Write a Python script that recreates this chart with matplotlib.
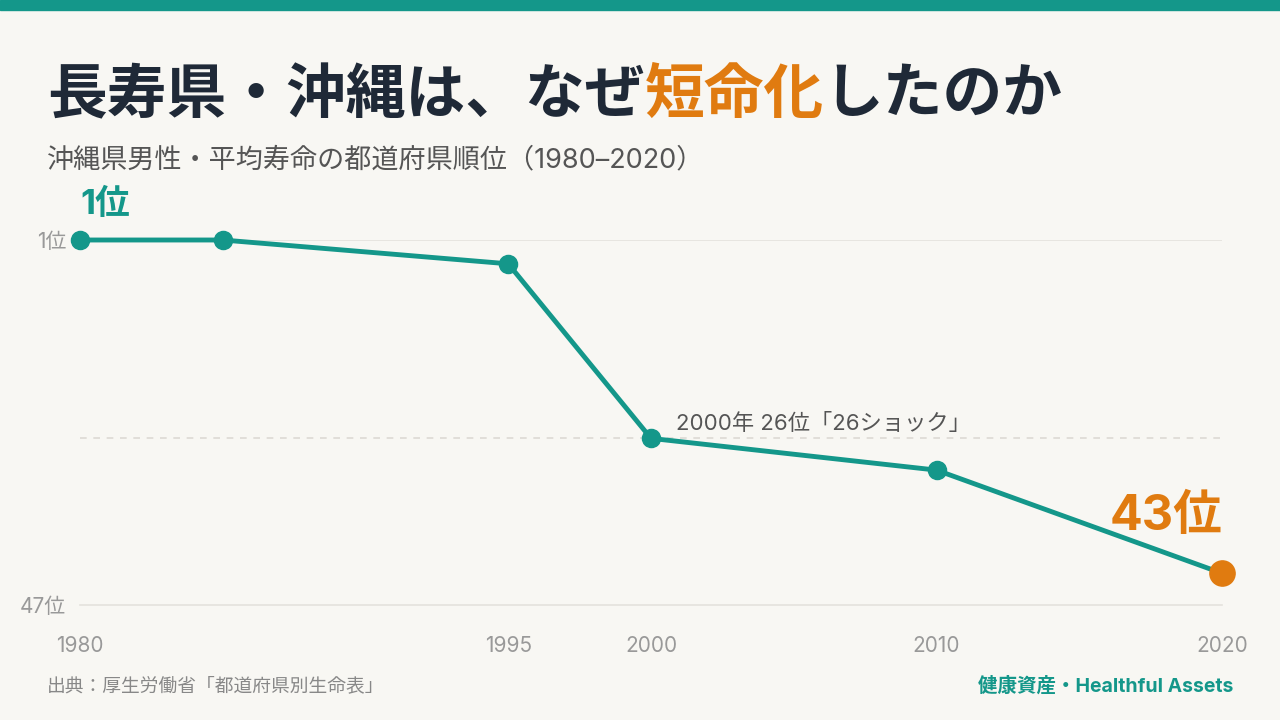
import matplotlib
matplotlib.use("Agg")
import matplotlib.pyplot as plt
from matplotlib.patches import Rectangle

plt.rcParams['font.family'] = ['Inter', 'Noto Sans CJK JP', 'DejaVu Sans']

years = [1980, 1985, 1995, 2000, 2010, 2020]
ranks = [1, 1, 4, 26, 30, 43]
tick_years = [1980, 1995, 2000, 2010, 2020]

TEAL = '#14978a'
ORANGE = '#e07b10'
BG = '#f8f7f3'
GRAY = '#999999'

fig = plt.figure(figsize=(12.8, 7.2), dpi=100, facecolor=BG)
fig.patches.append(Rectangle((0, 1 - 10/720), 1, 10/720, transform=fig.transFigure, color=TEAL, zorder=0))

ax = fig.add_axes([80/1280, 1 - 605/720, (1222 - 80)/1280, 365/720])
ax.set_facecolor(BG)
ax.set_xlim(1980, 2020)
ax.set_ylim(47, 1)
for s in ax.spines.values():
    s.set_visible(False)
ax.axhline(1, xmin=0, xmax=1, color='#e4e2dd', lw=1.2, zorder=1)
ax.plot([1980, 2020], [47, 47], color='#e4e2dd', lw=1.2, zorder=1, clip_on=False)
ax.plot([1980, 2020], [26, 26], color='#dddad4', lw=1.2, ls=(0, (4, 4)), zorder=1)
ax.plot(years, ranks, color=TEAL, lw=3.5, zorder=2, clip_on=False)
ax.scatter(years[:-1], ranks[:-1], s=170, color=TEAL, zorder=3, clip_on=False)
ax.scatter(years[-1:], ranks[-1:], s=330, color=ORANGE, zorder=3, clip_on=False)

ax.set_xticks(tick_years)
ax.set_xticklabels([str(y) for y in tick_years])
ax.set_yticks([1, 47])
ax.set_yticklabels(['1位', '47位'])
ax.tick_params(axis='both', length=0, colors=GRAY, labelsize=15)
ax.tick_params(axis='x', pad=22)
ax.tick_params(axis='y', pad=10)

ax.annotate('1位', (1980, 1), xytext=(0, 14), textcoords='offset points',
            color=TEAL, fontsize=25, fontweight='bold', ha='left', va='bottom')
ax.annotate('43位', (2020, 43), xytext=(0, 24), textcoords='offset points',
            color=ORANGE, fontsize=35, fontweight='bold', ha='right', va='bottom')
ax.annotate('2000年 26位「26ショック」', (2000, 26), xytext=(18, 3), textcoords='offset points',
            color='#555555', fontsize=16, ha='left', va='bottom')

fig.canvas.draw()
r = fig.canvas.get_renderer()
x = 47/1280
y = 1 - 97/720
for txt, col in [('長寿県・沖縄は、なぜ', '#1f2937'), ('短命化', ORANGE), ('したのか', '#1f2937')]:
    t = fig.text(x, y, txt, color=col, fontsize=43, fontweight='bold', va='center', ha='left')
    bb = t.get_window_extent(renderer=r)
    x += bb.width / 1280
fig.text(47/1280, 1 - 160/720, '沖縄県男性・平均寿命の都道府県順位（1980–2020）', color='#555555',
         fontsize=19.5, va='center', ha='left')
fig.text(47/1280, 1 - 686/720, '出典：厚生労働省「都道府県別生命表」', color='#888888',
         fontsize=13.5, va='center', ha='left')
fig.text(1233/1280, 1 - 686/720, '健康資産・Healthful Assets', color=TEAL,
         fontsize=14, fontweight='bold', va='center', ha='right')

fig.savefig('out.png', dpi=100, facecolor=BG)
